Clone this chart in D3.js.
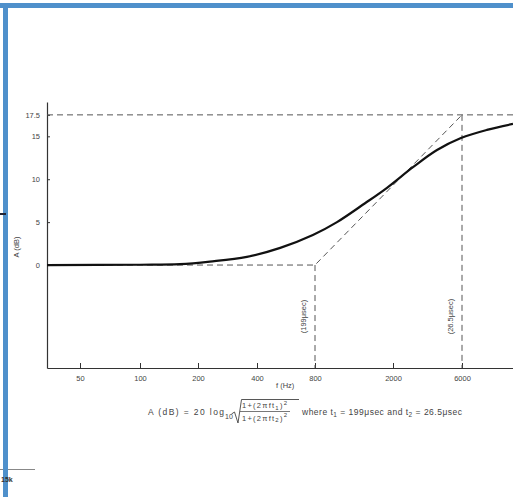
<!DOCTYPE html>
<html>
<head>
<meta charset="utf-8">
<script src="https://cdn.jsdelivr.net/npm/d3@7"></script>
<style>
  body { margin: 0; background: #fff; }
  svg { display: block; }
  text { font-family: 'Liberation Sans', Arial, sans-serif; fill: #444; }
  .tick text { font-size: 7.5px; }
  .tick line, .domain { stroke: #333; }
</style>
</head>
<body>
<svg width="513" height="497"></svg>
<script>
// values
const curveFreq = [34, 100, 161, 230, 355, 528, 780, 1036, 1440, 1864, 2750, 4030, 5900, 8750, 13000]
const curveGain = [0, 0.03, 0.1, 0.4, 0.95, 2.0, 3.5, 5.0, 7.2, 9.0, 11.4, 13.4, 14.8, 15.75, 16.45]

const asymFreq = [34, 800, 6000]
const asymGain = [0, 0, 17.5]
const topGain = 17.5

const xTicks = [50, 100, 200, 400, 800, 2000, 6000]
const yTicks = [0, 5, 10, 15, 17.5]
const breakLabels = ['(199\u03bcsec)', '(26.5\u03bcsec)']

const svg = d3.select('svg')
const width = +svg.attr('width')
const height = +svg.attr('height')

const margin = { top: 102, right: 0, bottom: 129, left: 47 }
const innerWidth = width - margin.left - margin.right
const innerHeight = height - margin.top - margin.bottom

// frame of the scanned page
svg.append('line').attr('x1', 0).attr('x2', 35).attr('y1', 469.5).attr('y2', 469.5)
  .attr('stroke', '#888').attr('stroke-width', 1)
svg.append('rect').attr('x', 0).attr('y', 3).attr('width', width).attr('height', 5).attr('fill', '#4f90cb')
svg.append('rect').attr('x', 3).attr('y', 3).attr('width', 5).attr('height', height - 3).attr('fill', '#4f90cb')
svg.append('rect').attr('x', 0).attr('y', 213).attr('width', 6).attr('height', 2).attr('fill', '#223')
svg.append('text').attr('x', 1).attr('y', 482).attr('font-size', 7).attr('font-weight', 'bold')
  .style('fill', '#333').text('15k')

const g = svg.append('g')
  .attr('transform', `translate(${margin.left}, ${margin.top})`)

// the printed frequency axis is not quite logarithmic, so it is pieced together
const xScale = d3.scaleLog()
  .domain([34, 50, 100, 200, 400, 800, 2000, 6000, 13000])
  .range([0, 33, 93, 151, 210, 268, 346, 415, 466].map(d => d * innerWidth / 466))

const yScale = d3.scaleLinear()
  .domain([-12, 19])
  .range([innerHeight, 0])

const xAxis = d3.axisBottom(xScale)
  .tickValues(xTicks)
  .tickFormat(d => d)
  .tickSizeInner(-5)
  .tickSizeOuter(0)
  .tickPadding(8)

const xAxisGroup = g.append('g').call(xAxis)
  .attr('transform', `translate(0, ${innerHeight})`)
xAxisGroup.select('.domain').attr('stroke-width', 1.2)

xAxisGroup.append('text')
  .attr('x', xScale(560))
  .attr('y', 20)
  .attr('text-anchor', 'middle')
  .attr('font-size', 7.5)
  .text('f (Hz)')

const yAxis = d3.axisLeft(yScale)
  .tickValues(yTicks)
  .tickFormat(d => d)
  .tickSizeInner(-3)
  .tickSizeOuter(0)
  .tickPadding(7)

const yAxisGroup = g.append('g').call(yAxis)
yAxisGroup.select('.domain').attr('stroke-width', 1.2)

yAxisGroup.append('text')
  .attr('transform', 'rotate(-90)')
  .attr('x', -yScale(2.1))
  .attr('y', -28)
  .attr('text-anchor', 'middle')
  .attr('font-size', 7.5)
  .text('A (dB)')

// dashed construction lines
const dashed = sel => sel
  .attr('fill', 'none')
  .attr('stroke', '#555')
  .attr('stroke-width', 1)
  .attr('stroke-dasharray', '6,4')

const lineGen = d3.line()
  .x(d => xScale(d[0]))
  .y(d => yScale(d[1]))

g.append('path')
  .attr('d', lineGen([[34, topGain], [13000, topGain]]))
  .call(dashed)

g.append('path')
  .attr('d', lineGen(asymFreq.map((f, i) => [f, asymGain[i]])))
  .call(dashed)

asymFreq.slice(1).forEach((f, i) => {
  g.append('path')
    .attr('d', lineGen([[f, asymGain[i + 1]], [f, -12]]))
    .call(dashed)

  g.append('text')
    .attr('transform', `translate(${xScale(f) - 9}, ${yScale(-6)}) rotate(-90)`)
    .attr('text-anchor', 'middle')
    .attr('font-size', 7.5)
    .text(breakLabels[i])
})

// response curve
const curveGen = d3.line()
  .x(d => xScale(d[0]))
  .y(d => yScale(d[1]))
  .curve(d3.curveCatmullRom.alpha(0.5))

g.append('path')
  .attr('d', curveGen(curveFreq.map((f, i) => [f, curveGain[i]])))
  .attr('fill', 'none')
  .attr('stroke', '#111')
  .attr('stroke-width', 2.2)

// formula under the chart
const f = svg.append('g').attr('font-size', 8.5)

f.append('text')
  .attr('x', 148).attr('y', 415)
  .attr('textLength', 76).attr('lengthAdjust', 'spacing')
  .text('A (dB) = 20 log')
f.append('text')
  .attr('x', 225).attr('y', 418.5)
  .attr('font-size', 7)
  .text('10')

f.append('path')
  .attr('d', 'M231.5,414 L234.5,412 L238,423 L241.5,399.5 L299,399.5')
  .attr('fill', 'none')
  .attr('stroke', '#444')
  .attr('stroke-width', 0.9)

const frac = (y, sub) => {
  const t = f.append('text').attr('x', 242).attr('y', y)
    .attr('font-size', 7.5)
    .attr('textLength', 45).attr('lengthAdjust', 'spacing')
  t.append('tspan').text('1+(2\u03c0ft')
  t.append('tspan').attr('font-size', 6).attr('dy', 1.5).text(sub)
  t.append('tspan').attr('dy', -1.5).text(')')
  t.append('tspan').attr('font-size', 6).attr('dy', -3.5).text('2')
}
frac(408, '1')
frac(420.5, '2')
f.append('line')
  .attr('x1', 240).attr('x2', 290).attr('y1', 411.5).attr('y2', 411.5)
  .attr('stroke', '#555').attr('stroke-width', 0.8)

const w = f.append('text').attr('x', 302).attr('y', 415)
  .attr('textLength', 160).attr('lengthAdjust', 'spacing')
w.append('tspan').text('where t')
w.append('tspan').attr('font-size', 6.5).attr('dy', 2).text('1')
w.append('tspan').attr('dy', -2).text(' =  199\u03bcsec and t')
w.append('tspan').attr('font-size', 6.5).attr('dy', 2).text('2')
w.append('tspan').attr('dy', -2).text(' = 26.5\u03bcsec')
</script>
</body>
</html>
